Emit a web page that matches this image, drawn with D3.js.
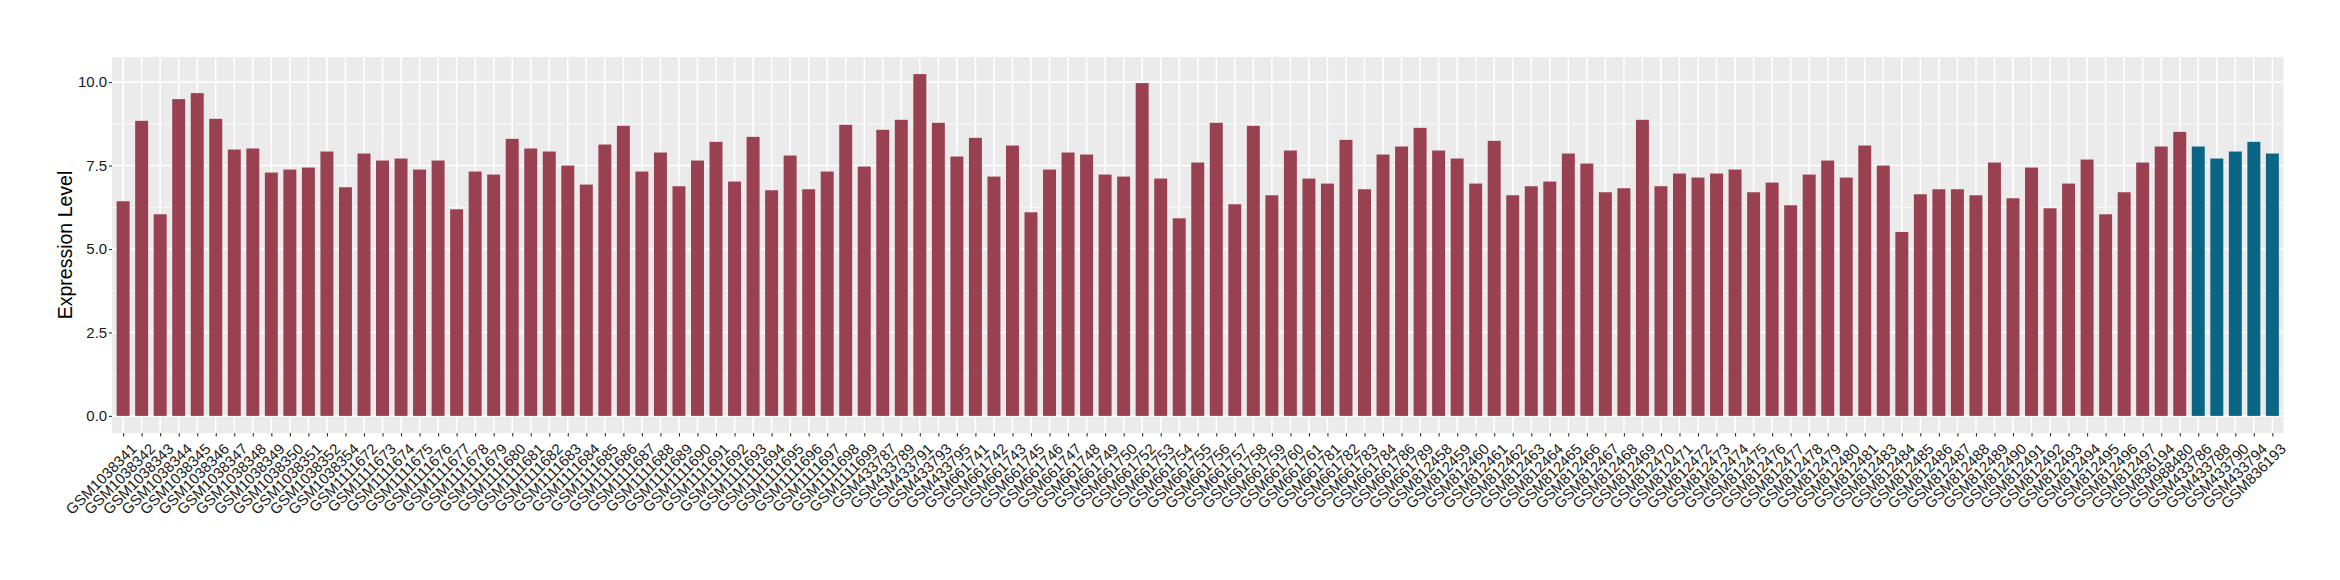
<!DOCTYPE html>
<html>
<head>
<meta charset="utf-8">
<script src="https://cdn.jsdelivr.net/npm/d3@7"></script>
<style>
  html, body { margin: 0; padding: 0; background: #fff; }
  svg { display: block; font-family: "Liberation Sans", Arial, Helvetica, sans-serif; }
</style>
</head>
<body>
<svg id="chart" width="2340" height="580"></svg>
<script>
const categories = [
  "GSM1038341","GSM1038342","GSM1038343","GSM1038344","GSM1038345","GSM1038346","GSM1038347","GSM1038348","GSM1038349","GSM1038350",
  "GSM1038351","GSM1038352","GSM1038354","GSM1111672","GSM1111673","GSM1111674","GSM1111675","GSM1111676","GSM1111677","GSM1111678",
  "GSM1111679","GSM1111680","GSM1111681","GSM1111682","GSM1111683","GSM1111684","GSM1111685","GSM1111686","GSM1111687","GSM1111688",
  "GSM1111689","GSM1111690","GSM1111691","GSM1111692","GSM1111693","GSM1111694","GSM1111695","GSM1111696","GSM1111697","GSM1111698",
  "GSM1111699","GSM433787","GSM433789","GSM433791","GSM433793","GSM433795","GSM661741","GSM661742","GSM661743","GSM661745",
  "GSM661746","GSM661747","GSM661748","GSM661749","GSM661750","GSM661752","GSM661753","GSM661754","GSM661755","GSM661756",
  "GSM661757","GSM661758","GSM661759","GSM661760","GSM661761","GSM661781","GSM661782","GSM661783","GSM661784","GSM661786",
  "GSM661789","GSM812458","GSM812459","GSM812460","GSM812461","GSM812462","GSM812463","GSM812464","GSM812465","GSM812466",
  "GSM812467","GSM812468","GSM812469","GSM812470","GSM812471","GSM812472","GSM812473","GSM812474","GSM812475","GSM812476",
  "GSM812477","GSM812478","GSM812479","GSM812480","GSM812481","GSM812483","GSM812484","GSM812485","GSM812486","GSM812487",
  "GSM812488","GSM812489","GSM812490","GSM812491","GSM812492","GSM812493","GSM812494","GSM812495","GSM812496","GSM812497",
  "GSM836194","GSM988480","GSM433786","GSM433788","GSM433790","GSM433794","GSM836193"
];

const values = [
  6.43, 8.84, 6.04, 9.49, 9.67, 8.90, 7.98, 8.01, 7.29, 7.38,
  7.44, 7.92, 6.85, 7.86, 7.65, 7.71, 7.38, 7.65, 6.19, 7.32,
  7.23, 8.30, 8.01, 7.92, 7.50, 6.93, 8.13, 8.69, 7.32, 7.89,
  6.88, 7.65, 8.21, 7.02, 8.36, 6.76, 7.80, 6.79, 7.32, 8.72,
  7.47, 8.57, 8.87, 10.24, 8.78, 7.77, 8.33, 7.17, 8.10, 6.10,
  7.38, 7.89, 7.83, 7.23, 7.17, 9.97, 7.11, 5.92, 7.59, 8.78,
  6.34, 8.69, 6.61, 7.95, 7.11, 6.96, 8.27, 6.79, 7.83, 8.07,
  8.63, 7.95, 7.71, 6.96, 8.24, 6.61, 6.88, 7.02, 7.86, 7.56,
  6.70, 6.82, 8.87, 6.88, 7.26, 7.14, 7.26, 7.38, 6.70, 6.99,
  6.31, 7.23, 7.65, 7.14, 8.10, 7.50, 5.51, 6.64, 6.79, 6.79,
  6.61, 7.59, 6.52, 7.44, 6.22, 6.96, 7.68, 6.04, 6.70, 7.59,
  8.07, 8.51, 8.07, 7.71, 7.92, 8.21, 7.86
];

// samples belonging to the highlighted group
const highlighted = ["GSM433786","GSM433788","GSM433790","GSM433794","GSM836193"];

const yTicks = [0, 2.5, 5, 7.5, 10];
const yMinorTicks = [1.25, 3.75, 6.25, 8.75];
const yTitle = "Expression Level";

const data = categories.map((c, i) => ({ name: c, value: values[i], group: highlighted.includes(c) ? "B" : "A" }));

const colors = { A: "#9A4151", B: "#0B6585" };

const svg = d3.select("#chart");
const panel = { left: 112, right: 2283.5, top: 57, bottom: 433 };

// discrete expansion of 0.6 on each side (like ggplot)
const n = categories.length;
const unit = (panel.right - panel.left) / (n - 1 + 1.2);
const x = d3.scalePoint()
  .domain(categories)
  .range([panel.left + 0.6 * unit, panel.right - 0.6 * unit]);
const barW = unit * 0.7;

const maxV = d3.max(values);
const pad = maxV * 0.05;
const y = d3.scaleLinear()
  .domain([-pad, maxV + pad])
  .range([panel.bottom, panel.top]);

// panel background
svg.append("rect")
  .attr("x", panel.left).attr("y", panel.top)
  .attr("width", panel.right - panel.left).attr("height", panel.bottom - panel.top)
  .attr("fill", "#EBEBEB");

// minor y grid
svg.append("g").selectAll("line").data(yMinorTicks).join("line")
  .attr("x1", panel.left).attr("x2", panel.right)
  .attr("y1", d => y(d)).attr("y2", d => y(d))
  .attr("stroke", "#fff").attr("stroke-width", 0.75);

// major y grid
svg.append("g").selectAll("line").data(yTicks).join("line")
  .attr("x1", panel.left).attr("x2", panel.right)
  .attr("y1", d => y(d)).attr("y2", d => y(d))
  .attr("stroke", "#fff").attr("stroke-width", 1.5);

// major x grid
svg.append("g").selectAll("line").data(categories).join("line")
  .attr("y1", panel.top).attr("y2", panel.bottom)
  .attr("x1", d => x(d)).attr("x2", d => x(d))
  .attr("stroke", "#fff").attr("stroke-width", 1.5);

// bars
svg.append("g").selectAll("rect").data(data).join("rect")
  .attr("x", d => x(d.name) - barW / 2)
  .attr("width", barW)
  .attr("y", d => y(d.value))
  .attr("height", d => y(0) - y(d.value))
  .attr("fill", d => colors[d.group]);

// y axis
const yAxis = d3.axisLeft(y).tickValues(yTicks).tickFormat(d3.format(".1f")).tickSize(3).tickPadding(1.8);
const gy = svg.append("g").attr("transform", `translate(${panel.left},0)`).call(yAxis);
gy.select(".domain").remove();
gy.selectAll(".tick line").attr("stroke", "#333").attr("stroke-width", 1.1);
gy.selectAll(".tick text").attr("fill", "#1a1a1a").style("font-size", "15px")
  .style("font-family", "'Liberation Sans', Arial, sans-serif");

// x axis
const xAxis = d3.axisBottom(x).tickSize(3.5).tickPadding(0);
const gx = svg.append("g").attr("transform", `translate(0,${panel.bottom})`).call(xAxis);
gx.select(".domain").remove();
gx.selectAll(".tick line").attr("stroke", "#333").attr("stroke-width", 1.1);
gx.selectAll(".tick text")
  .attr("fill", "#1a1a1a")
  .style("font-size", "15px")
  .style("font-family", "'Liberation Sans', Arial, sans-serif")
  .attr("text-anchor", "end")
  .attr("dy", null)
  .attr("y", 0)
  .attr("transform", "translate(6,9) rotate(-45)")
  .attr("dominant-baseline", "hanging");

// y title
svg.append("text")
  .attr("transform", `translate(71.5,${(panel.top + panel.bottom) / 2}) rotate(-90)`)
  .attr("text-anchor", "middle")
  .style("font-size", "19.5px")
  .attr("fill", "#000")
  .text(yTitle);
</script>
</body>
</html>
